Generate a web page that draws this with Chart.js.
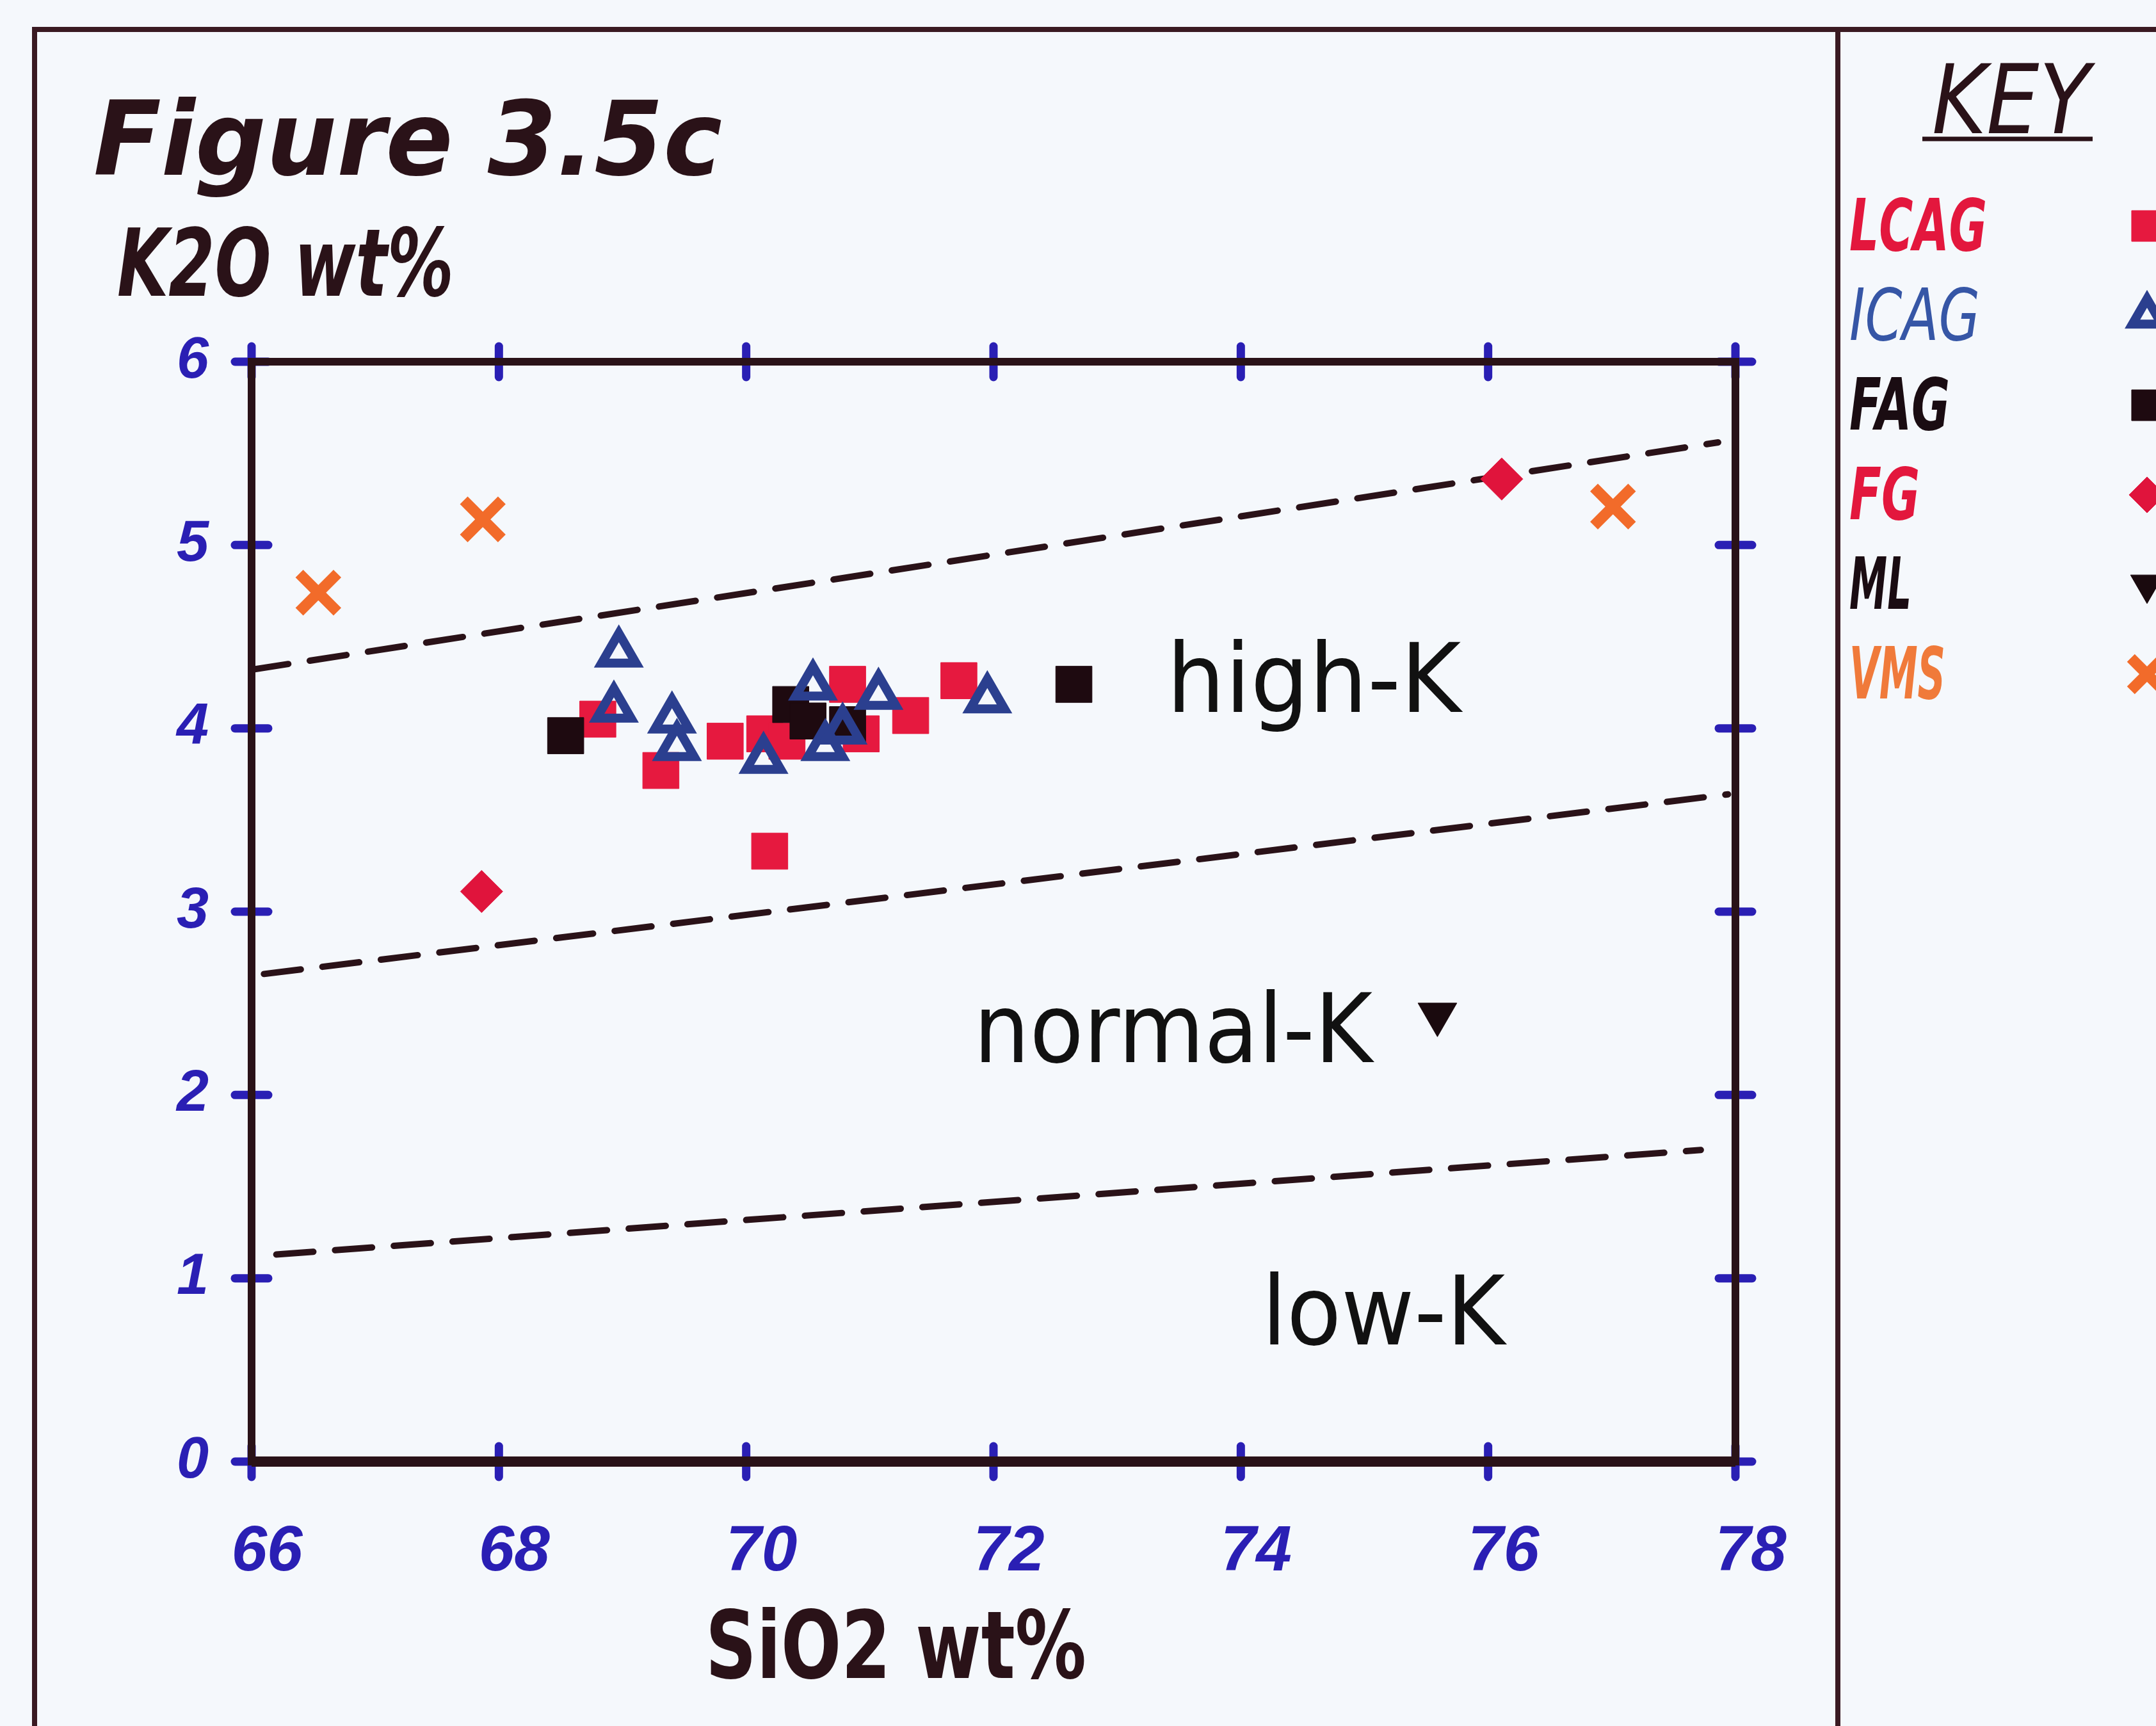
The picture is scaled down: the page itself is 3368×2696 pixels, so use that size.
<!DOCTYPE html>
<html>
<head>
<meta charset="utf-8">
<title>Figure 3.5c</title>
<script src="https://cdn.jsdelivr.net/npm/chart.js@4.4.1/dist/chart.umd.min.js"></script>
<style>
  html, body { margin: 0; padding: 0; background: #f5f8fc; overflow: hidden; }
  canvas { display: block; }
</style>
</head>
<body>
<canvas id="myChart" width="3368" height="2696"></canvas>
<script>
// SiO2 / K2O wt%
const lcagSiO2 = [68.80, 69.31, 69.83, 70.15, 70.33, 70.19, 70.82, 70.93, 71.33, 71.72];
const lcagK2O = [4.05, 3.77, 3.93, 3.97, 3.93, 3.33, 4.24, 3.97, 4.07, 4.26];
const icagSiO2 = [68.97, 68.93, 69.40, 69.44, 70.14, 70.54, 70.64, 70.78, 71.07, 71.95];
const icagK2O = [4.41, 4.11, 4.05, 3.90, 3.83, 4.23, 3.90, 3.99, 4.18, 4.16];
const fagSiO2 = [68.54, 70.36, 70.50, 70.82, 72.65];
const fagK2O = [3.96, 4.13, 4.04, 4.02, 4.24];
const fgSiO2 = [67.86, 76.11];
const fgK2O = [3.11, 5.36];
const mlSiO2 = [75.59];
const mlK2O = [2.44];
const vmsSiO2 = [66.54, 67.87, 77.01];
const vmsK2O = [4.74, 5.14, 5.21];

// high-K / normal-K / low-K dividing lines
const divSiO2 = [[66.0, 77.86], [66.1, 77.94], [66.2, 77.72]];
const divK2O = [[4.32, 5.56], [2.66, 3.64], [1.13, 1.70]];

const xTicks = [66, 68, 70, 72, 74, 76, 78];
const yTicks = [0, 1, 2, 3, 4, 5, 6];

const keyNames = ["LCAG", "ICAG", "FAG", "FG", "ML", "VMS"];
const zoneNames = ["high-K", "normal-K", "low-K"];

function pts(xs, ys) {
  return xs.map((x, i) => ({ x: x, y: ys[i] }));
}

const inkColor = "#2a1218";
const tickBlue = "#2a1fb4";

const seriesStyle = {
  LCAG: { pointStyle: "rect", radius: 40, bg: "#e6193f", border: "#e6193f", bw: 1, rot: 0, order: 5 },
  ICAG: { pointStyle: "triangle", radius: 31, bg: "rgba(0,0,0,0)", border: "#2b3f8f", bw: 14, rot: 0, order: 3 },
  FAG: { pointStyle: "rect", radius: 40, bg: "#1e0a10", border: "#1e0a10", bw: 1, rot: 0, order: 4 },
  FG: { pointStyle: "rectRot", radius: 33, bg: "#e0143c", border: "#e0143c", bw: 1, rot: 0, order: 2 },
  ML: { pointStyle: "triangle", radius: 35, bg: "#1a0a0e", border: "#1a0a0e", bw: 1, rot: 180, order: 1 },
  VMS: { pointStyle: "crossRot", radius: 42, bg: "#f26b2a", border: "#f26b2a", bw: 17, rot: 0, order: 0 },
};

const seriesData = {
  LCAG: pts(lcagSiO2, lcagK2O),
  ICAG: pts(icagSiO2, icagK2O),
  FAG: pts(fagSiO2, fagK2O),
  FG: pts(fgSiO2, fgK2O),
  ML: pts(mlSiO2, mlK2O),
  VMS: pts(vmsSiO2, vmsK2O),
};

const datasets = keyNames.map((name) => {
  const s = seriesStyle[name];
  return {
    label: name,
    data: seriesData[name],
    pointStyle: s.pointStyle,
    pointRadius: s.radius,
    pointRotation: s.rot,
    pointBackgroundColor: s.bg,
    pointBorderColor: s.border,
    pointBorderWidth: s.bw,
    order: s.order,
  };
});

divSiO2.forEach((xs, i) => {
  datasets.push({
    label: zoneNames[i] + " line",
    data: pts(xs, divK2O[i]),
    showLine: true,
    borderColor: inkColor,
    borderWidth: 10,
    borderDash: [58, 34],
    borderCapStyle: "round",
    pointRadius: 0,
    order: 10,
  });
});

// text squeezed horizontally to a given width, like the plotter lettering
function txt(ctx, str, x, y, font, color, width) {
  ctx.save();
  ctx.font = font;
  ctx.fillStyle = color;
  ctx.textBaseline = "alphabetic";
  ctx.textAlign = "left";
  const w = ctx.measureText(str).width;
  ctx.translate(x, y);
  if (width) ctx.scale(width / w, 1);
  ctx.fillText(str, 0, 0);
  ctx.restore();
}

const figurePlugin = {
  id: "figure",
  beforeDraw(chart) {
    const c = chart.ctx;
    c.save();
    c.fillStyle = "#f5f8fc";
    c.fillRect(0, 0, chart.width, chart.height);
    c.restore();
  },
  afterDatasetsDraw(chart) {
    const c = chart.ctx;
    const a = chart.chartArea;
    const xs = chart.scales.x;
    const ys = chart.scales.y;

    // blue tick marks on all four sides
    c.save();
    c.strokeStyle = tickBlue;
    c.lineWidth = 13;
    c.lineCap = "round";
    xTicks.forEach((v) => {
      const px = xs.getPixelForValue(v);
      [a.top, a.bottom].forEach((py) => {
        c.beginPath();
        c.moveTo(px, py - 24);
        c.lineTo(px, py + 24);
        c.stroke();
      });
    });
    yTicks.forEach((v) => {
      const py = ys.getPixelForValue(v);
      [a.left, a.right].forEach((px) => {
        c.beginPath();
        c.moveTo(px - 26, py);
        c.lineTo(px + 26, py);
        c.stroke();
      });
    });
    c.restore();

    // plot box
    c.save();
    c.strokeStyle = inkColor;
    c.lineWidth = 12;
    c.strokeRect(a.left, a.top, a.right - a.left, a.bottom - a.top);
    c.lineWidth = 16;
    c.beginPath();
    c.moveTo(a.left, a.bottom);
    c.lineTo(a.right, a.bottom);
    c.stroke();
    c.restore();

    // zone labels
    const zoneFont = '150px "DejaVu Sans"';
    txt(c, zoneNames[0], xs.getPixelForValue(73.40), ys.getPixelForValue(4.09), zoneFont, "#111", 460);
    txt(c, zoneNames[1], xs.getPixelForValue(71.84), ys.getPixelForValue(2.18), zoneFont, "#111", 623);
    txt(c, zoneNames[2], xs.getPixelForValue(74.17), ys.getPixelForValue(0.64), zoneFont, "#111", 380);
  },
  afterDraw(chart) {
    const c = chart.ctx;

    // outer frame and key divider
    c.save();
    c.strokeStyle = "#3a1a22";
    c.lineWidth = 8;
    c.beginPath();
    c.moveTo(54, 2696);
    c.lineTo(54, 46);
    c.lineTo(3368, 46);
    c.moveTo(2871, 46);
    c.lineTo(2871, 2696);
    c.stroke();
    c.restore();

    // titles
    txt(c, "Figure 3.5c", 146, 273, 'italic bold 160px "DejaVu Sans"', inkColor, 982);
    txt(c, "K2O wt%", 183, 462, 'italic bold 146px "DejaVu Sans"', inkColor, 526);
    txt(c, "SiO2 wt%", 1102, 2621, 'bold 146px "DejaVu Sans"', inkColor, 595);

    // key
    txt(c, "KEY", 3018, 208, 'italic 150px "DejaVu Sans"', inkColor, 247);
    c.save();
    c.strokeStyle = inkColor;
    c.lineWidth = 7;
    c.beginPath();
    c.moveTo(3003, 217);
    c.lineTo(3269, 217);
    c.stroke();
    c.restore();

    const keyColors = ["#e3173d", "#3656a6", "#1a0c12", "#e3173d", "#1a0c12", "#f07a3a"];
    const keyWidths = [215, 204, 157, 110, 97, 150];
    keyNames.forEach((name, i) => {
      const base = 391 + i * 140;
      const weight = name === "ICAG" ? "" : "bold ";
      txt(c, name, 2889, base, "italic " + weight + '112px "DejaVu Sans"', keyColors[i], keyWidths[i]);
      const s = seriesStyle[name];
      c.save();
      c.fillStyle = s.bg;
      c.strokeStyle = s.border;
      c.lineWidth = s.bw;
      Chart.helpers.drawPoint(c, {
        pointStyle: s.pointStyle,
        radius: s.radius * 0.85,
        rotation: s.rot,
        borderWidth: s.bw,
      }, 3354, base - 38);
      c.restore();
    });
  },
};

new Chart(document.getElementById("myChart").getContext("2d"), {
  type: "scatter",
  data: { datasets: datasets },
  options: {
    responsive: false,
    animation: false,
    devicePixelRatio: 1,
    layout: { padding: { left: 0, top: 565, right: 657, bottom: 0 } },
    plugins: {
      legend: { display: false },
      tooltip: { enabled: false },
    },
    scales: {
      x: {
        type: "linear",
        min: 66,
        max: 78,
        afterBuildTicks: (s) => { s.ticks = xTicks.map((v) => ({ value: v })); },
        afterFit: (s) => { s.height = 413; },
        grid: { display: false, drawTicks: false },
        border: { display: false },
        ticks: {
          padding: 82,
          labelOffset: 24,
          color: tickBlue,
          font: { family: "Liberation Sans", size: 100, style: "italic", weight: "bold" },
        },
      },
      y: {
        type: "linear",
        min: 0,
        max: 6,
        afterBuildTicks: (s) => { s.ticks = yTicks.map((v) => ({ value: v })); },
        afterFit: (s) => { s.width = 393; },
        grid: { display: false, drawTicks: false },
        border: { display: false },
        ticks: {
          padding: 67,
          color: tickBlue,
          font: { family: "Liberation Sans", size: 90, style: "italic", weight: "bold" },
        },
      },
    },
  },
  plugins: [figurePlugin],
});
</script>
</body>
</html>
